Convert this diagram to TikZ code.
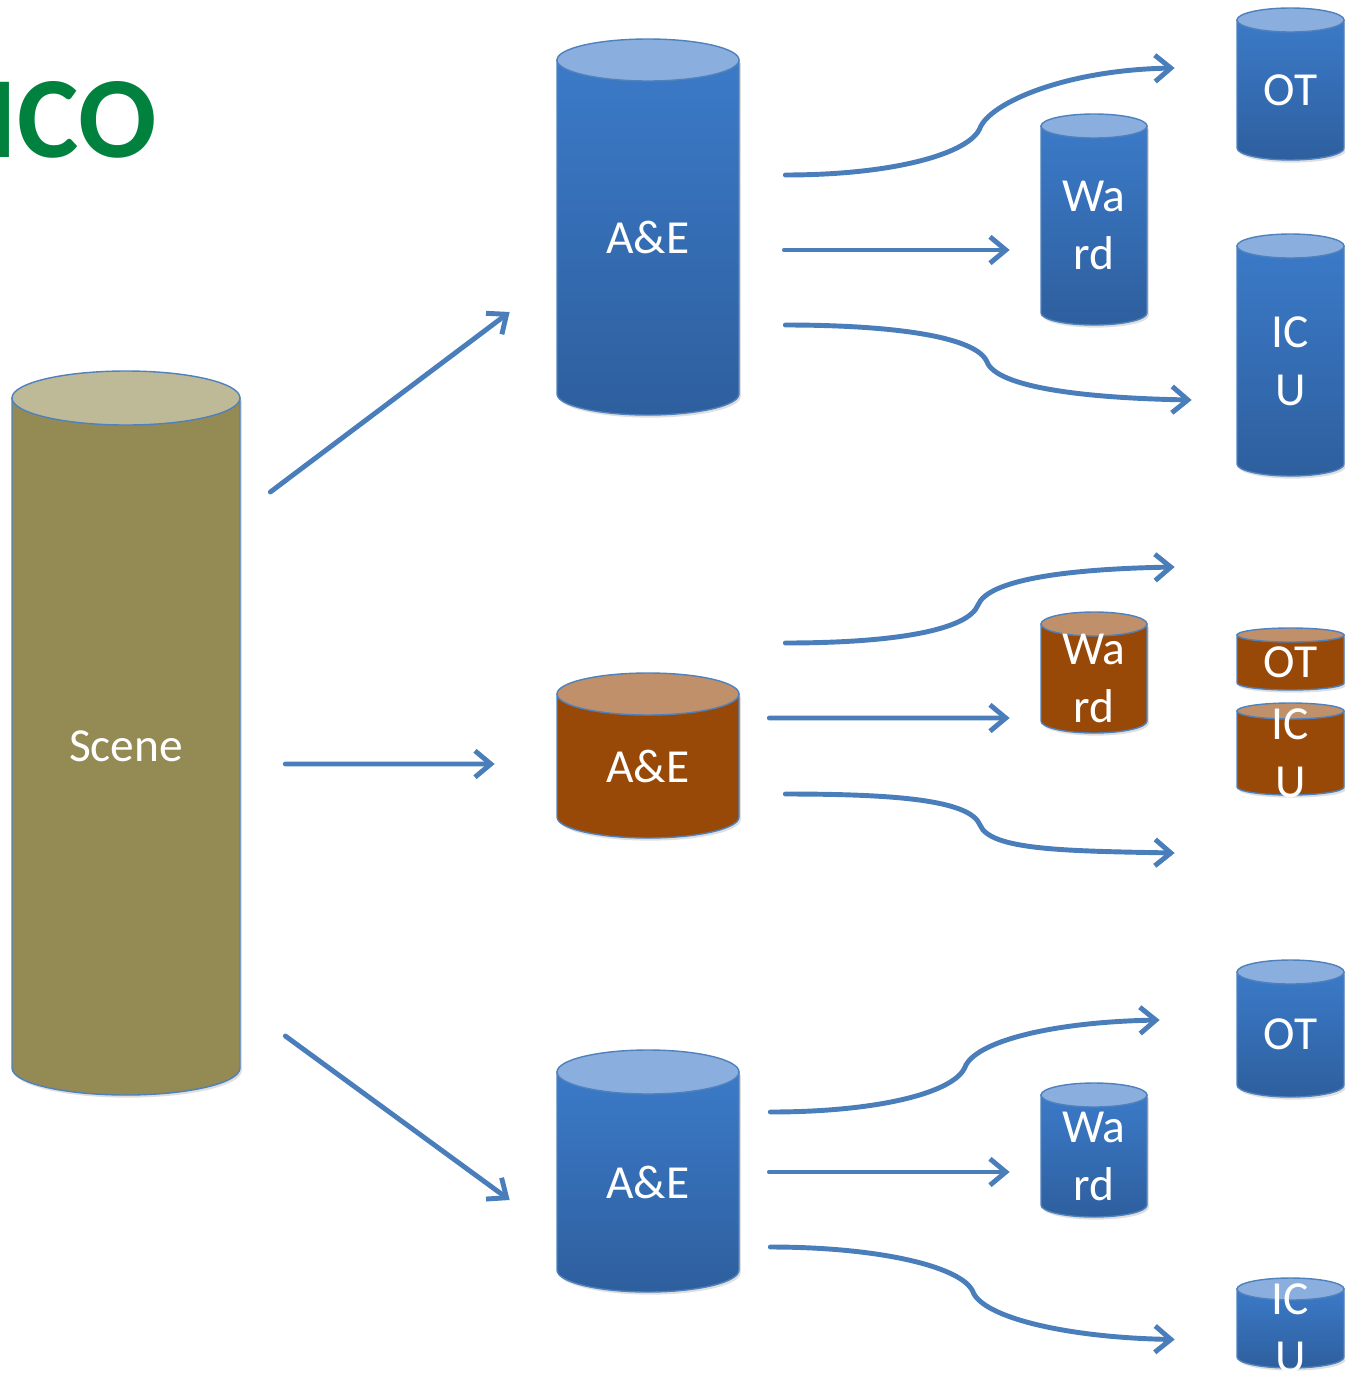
\documentclass[tikz,border=0pt]{standalone}
\usepackage{fontspec}
\setmainfont{Carlito}
\usetikzlibrary{arrows.meta,shadows}

\definecolor{edgeblue}{HTML}{4F81BD}
\definecolor{flowblue}{HTML}{4A7EBB}
\definecolor{icogreen}{HTML}{00823E}
\definecolor{bluetop}{HTML}{3B7AC8}
\definecolor{bluebottom}{HTML}{2E5F9E}
\definecolor{bluecap}{HTML}{8AAEDE}
\definecolor{orangeside}{HTML}{984807}
\definecolor{orangecap}{HTML}{C0906A}
\definecolor{oliveside}{HTML}{948A54}
\definecolor{olivecap}{HTML}{BEBA98}

% name, colour set, cx, top, bottom, rx, ry, text (pixels, y downwards)
\newcommand{\drum}[8]{%
    \path[drum, #2body] ({#3-#6}, {-#4}) -- ({#3-#6}, {#7-#5})
        arc[start angle=180, end angle=360, x radius=#6*0.02cm, y radius=#7*0.02cm]
        -- ({#3+#6}, {-#4}) -- cycle;
    \path[drum, #2end] ({#3}, {-#4}) ellipse[x radius=#6*0.02cm, y radius=#7*0.02cm];
    \node[tag, minimum width=2*#6*0.02cm, minimum height=(#5-#4)*0.02cm] (#1) at ({#3}, {-(#4+#5)/2}) {#8};
}

\begin{document}
\begin{tikzpicture}[
            x = 0.02cm, y = 0.02cm,
            drum/.style={draw=edgeblue, line width=.8pt},
            dropped/.style={drop shadow={opacity=.25, shadow xshift=1pt, shadow yshift=-1.5pt}},
            bluebody/.style={dropped, top color=bluetop, bottom color=bluebottom},
            blueend/.style={fill=bluecap},
            orangebody/.style={dropped, fill=orangeside},
            orangeend/.style={fill=orangecap},
            olivebody/.style={dropped, fill=oliveside},
            oliveend/.style={fill=olivecap},
            tag/.style={text=white, font=\fontsize{27}{33}\selectfont, align=center, inner sep=0pt},
            flow/.style={draw=flowblue, line width=2.8pt, line cap=round, -{Straight Barb[length=9pt, width=15pt]}},
            ]

        \useasboundingbox (0, 0) rectangle (1345, -1376);

        \node[font=\fontsize{66}{66}\selectfont\bfseries, text=icogreen, anchor=base east, inner sep=0pt] (ico) at (157, -157) {ICO};

        \drum{scene}{olive}{126}{398}{1095}{114}{27}{Scene}

        \drum{ae1}{blue}{648}{60}{415}{91}{21}{A\&E}
        \drum{ae2}{orange}{648}{694}{838}{91}{21}{A\&E}
        \drum{ae3}{blue}{648}{1072}{1292}{91}{22}{A\&E}

        \drum{ward1}{blue}{1094}{126}{325}{53}{12}{Wa\\rd}
        \drum{ward2}{orange}{1094}{624}{733}{53}{12}{Wa\\rd}
        \drum{ward3}{blue}{1094}{1095}{1217}{53}{12}{Wa\\rd}

        \drum{ot1}{blue}{1290.5}{20}{160}{53.5}{12}{OT}
        \drum{icu1}{blue}{1290.5}{246}{476}{53.5}{12}{IC\\U}
        \drum{ot2}{orange}{1290.5}{635}{690}{53.5}{7}{OT}
        \drum{icu2}{orange}{1290.5}{711}{795}{53.5}{8}{IC\\U}
        \drum{ot3}{blue}{1290.5}{972}{1097}{53.5}{12}{OT}
        \drum{icu3}{blue}{1290.5}{1289}{1368}{53.5}{11}{IC\\U}

        \draw[flow] ([shift={(30,254.5)}]scene.east) -- ([shift={(-47,-74.5)}]ae1.west);
        \draw[flow] ([shift={(45,-17.5)}]scene.east) -- ([shift={(-62,2)}]ae2.west);
        \draw[flow] ([shift={(45,-289.5)}]scene.east) -- ([shift={(-47,-18)}]ae3.west);

        \draw[flow] ([shift={(46,62.5)}]ae1.east) .. controls +(110,0) and +(-10,-25) .. (980,-128)
            .. controls +(10,25) and +(-110,-2) .. ([shift={(-62,22)}]ot1.west);
        \draw[flow] ([shift={(45,-12.5)}]ae1.east) -- ([shift={(-31,-24.5)}]ward1.west);
        \draw[flow] ([shift={(46,-87.5)}]ae1.east) .. controls +(110,0) and +(-10,25) .. (987,-362)
            .. controls +(10,-25) and +(-110,2) .. ([shift={(-45,-39)}]icu1.west);

        \draw[flow] ([shift={(46,123)}]ae2.east) .. controls +(110,0) and +(-10,-25) .. (978,-605)
            .. controls +(10,25) and +(-110,-2) .. ([shift={(-62,95.5)}]ot2.west);
        \draw[flow] ([shift={(30,48)}]ae2.east) -- ([shift={(-31,-39.5)}]ward2.west);
        \draw[flow] ([shift={(46,-28)}]ae2.east) .. controls +(110,0) and +(-10,25) .. (980,-825)
            .. controls +(10,-25) and +(-110,2) .. ([shift={(-62,-100)}]icu2.west);

        \draw[flow] ([shift={(31,70)}]ae3.east) .. controls +(110,0) and +(-10,-25) .. (965,-1067)
            .. controls +(10,25) and +(-110,-2) .. ([shift={(-77,14.5)}]ot3.west);
        \draw[flow] ([shift={(30,10)}]ae3.east) -- ([shift={(-31,-16)}]ward3.west);
        \draw[flow] ([shift={(31,-65)}]ae3.east) .. controls +(110,0) and +(-10,25) .. (973,-1292)
            .. controls +(10,-25) and +(-110,2) .. ([shift={(-62,-11)}]icu3.west);
    \end{tikzpicture}
\end{document}
